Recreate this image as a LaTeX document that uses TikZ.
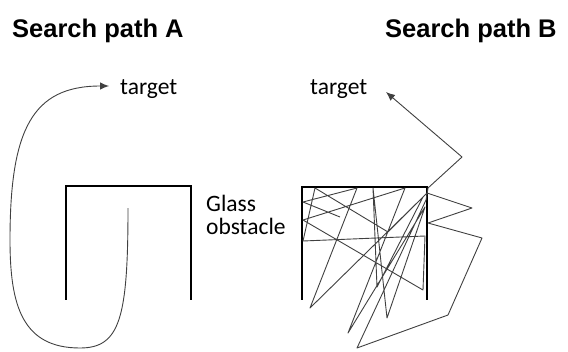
\documentclass[tikz,border=0pt]{standalone}
\usepackage{fontspec}
\setmainfont{Carlito}
\newfontfamily\titlefont{Liberation Sans}
\usetikzlibrary{arrows.meta}
\begin{document}
\begin{tikzpicture}[x=1pt,y=-1pt,
  title/.style={anchor=base west,inner sep=0pt,font=\titlefont\bfseries\fontsize{25.5}{30}\selectfont},
  lbl/.style={anchor=base west,inner sep=0pt,font=\fontsize{23.5}{24}\selectfont},
  wall/.style={line width=2.6pt,line cap=rect,line join=miter},
  trail/.style={line width=0.9pt,black!75,line join=round},
  tip/.style={-{Latex[length=9pt,width=7.5pt]}}]
\useasboundingbox (0,0) rectangle (568,351);
% titles
\node[title] (tA) at (12,37) {Search path A};
\node[title] (tB) at (385,37) {Search path B};
% labels
\node[lbl] (targetA) at (120,94) {target};
\node[lbl] (targetB) at (310,94) {target};
\node[lbl] (glass) at (206,211) {Glass};
\node[lbl] (obst) at (206,234) {obstacle};
% obstacles
\draw[wall] (66,299) -- (66,186) -- (191,186) -- (191,299);
\draw[wall] (302,299) -- (302,187) -- (427,187) -- (427,299);
% path A
\coordinate (aStart) at (128,208);
\coordinate (aEnd) at ([xshift=-11pt]targetA.base west |- 0,86);
\draw[trail,tip] (aStart) .. controls (128,318) and (120,348) .. (80,348)
   .. controls (22,348) and (10,305) .. (10,240)
   .. controls (10,130) and (32,86) .. (aEnd);
% path B
\coordinate (bEnd) at (386,92);
\draw[trail] (340,217) -- (303,202) -- (357,188) -- (310,308) -- (423,197)
  -- (377,287) -- (373,188) -- (387,318) -- (425,207) -- (348,333)
  -- (405,188) -- (303,220) -- (423,290) -- (425,236) -- (303,241)
  -- (315,188) -- (388,232) -- (427,193) -- (472,208) -- (428,223)
  -- (482,238) -- (448,315) -- (357,348) -- (426,200) -- (428,188);
\draw[trail,tip] (428,188) -- (462,157) -- (bEnd);
\end{tikzpicture}
\end{document}
